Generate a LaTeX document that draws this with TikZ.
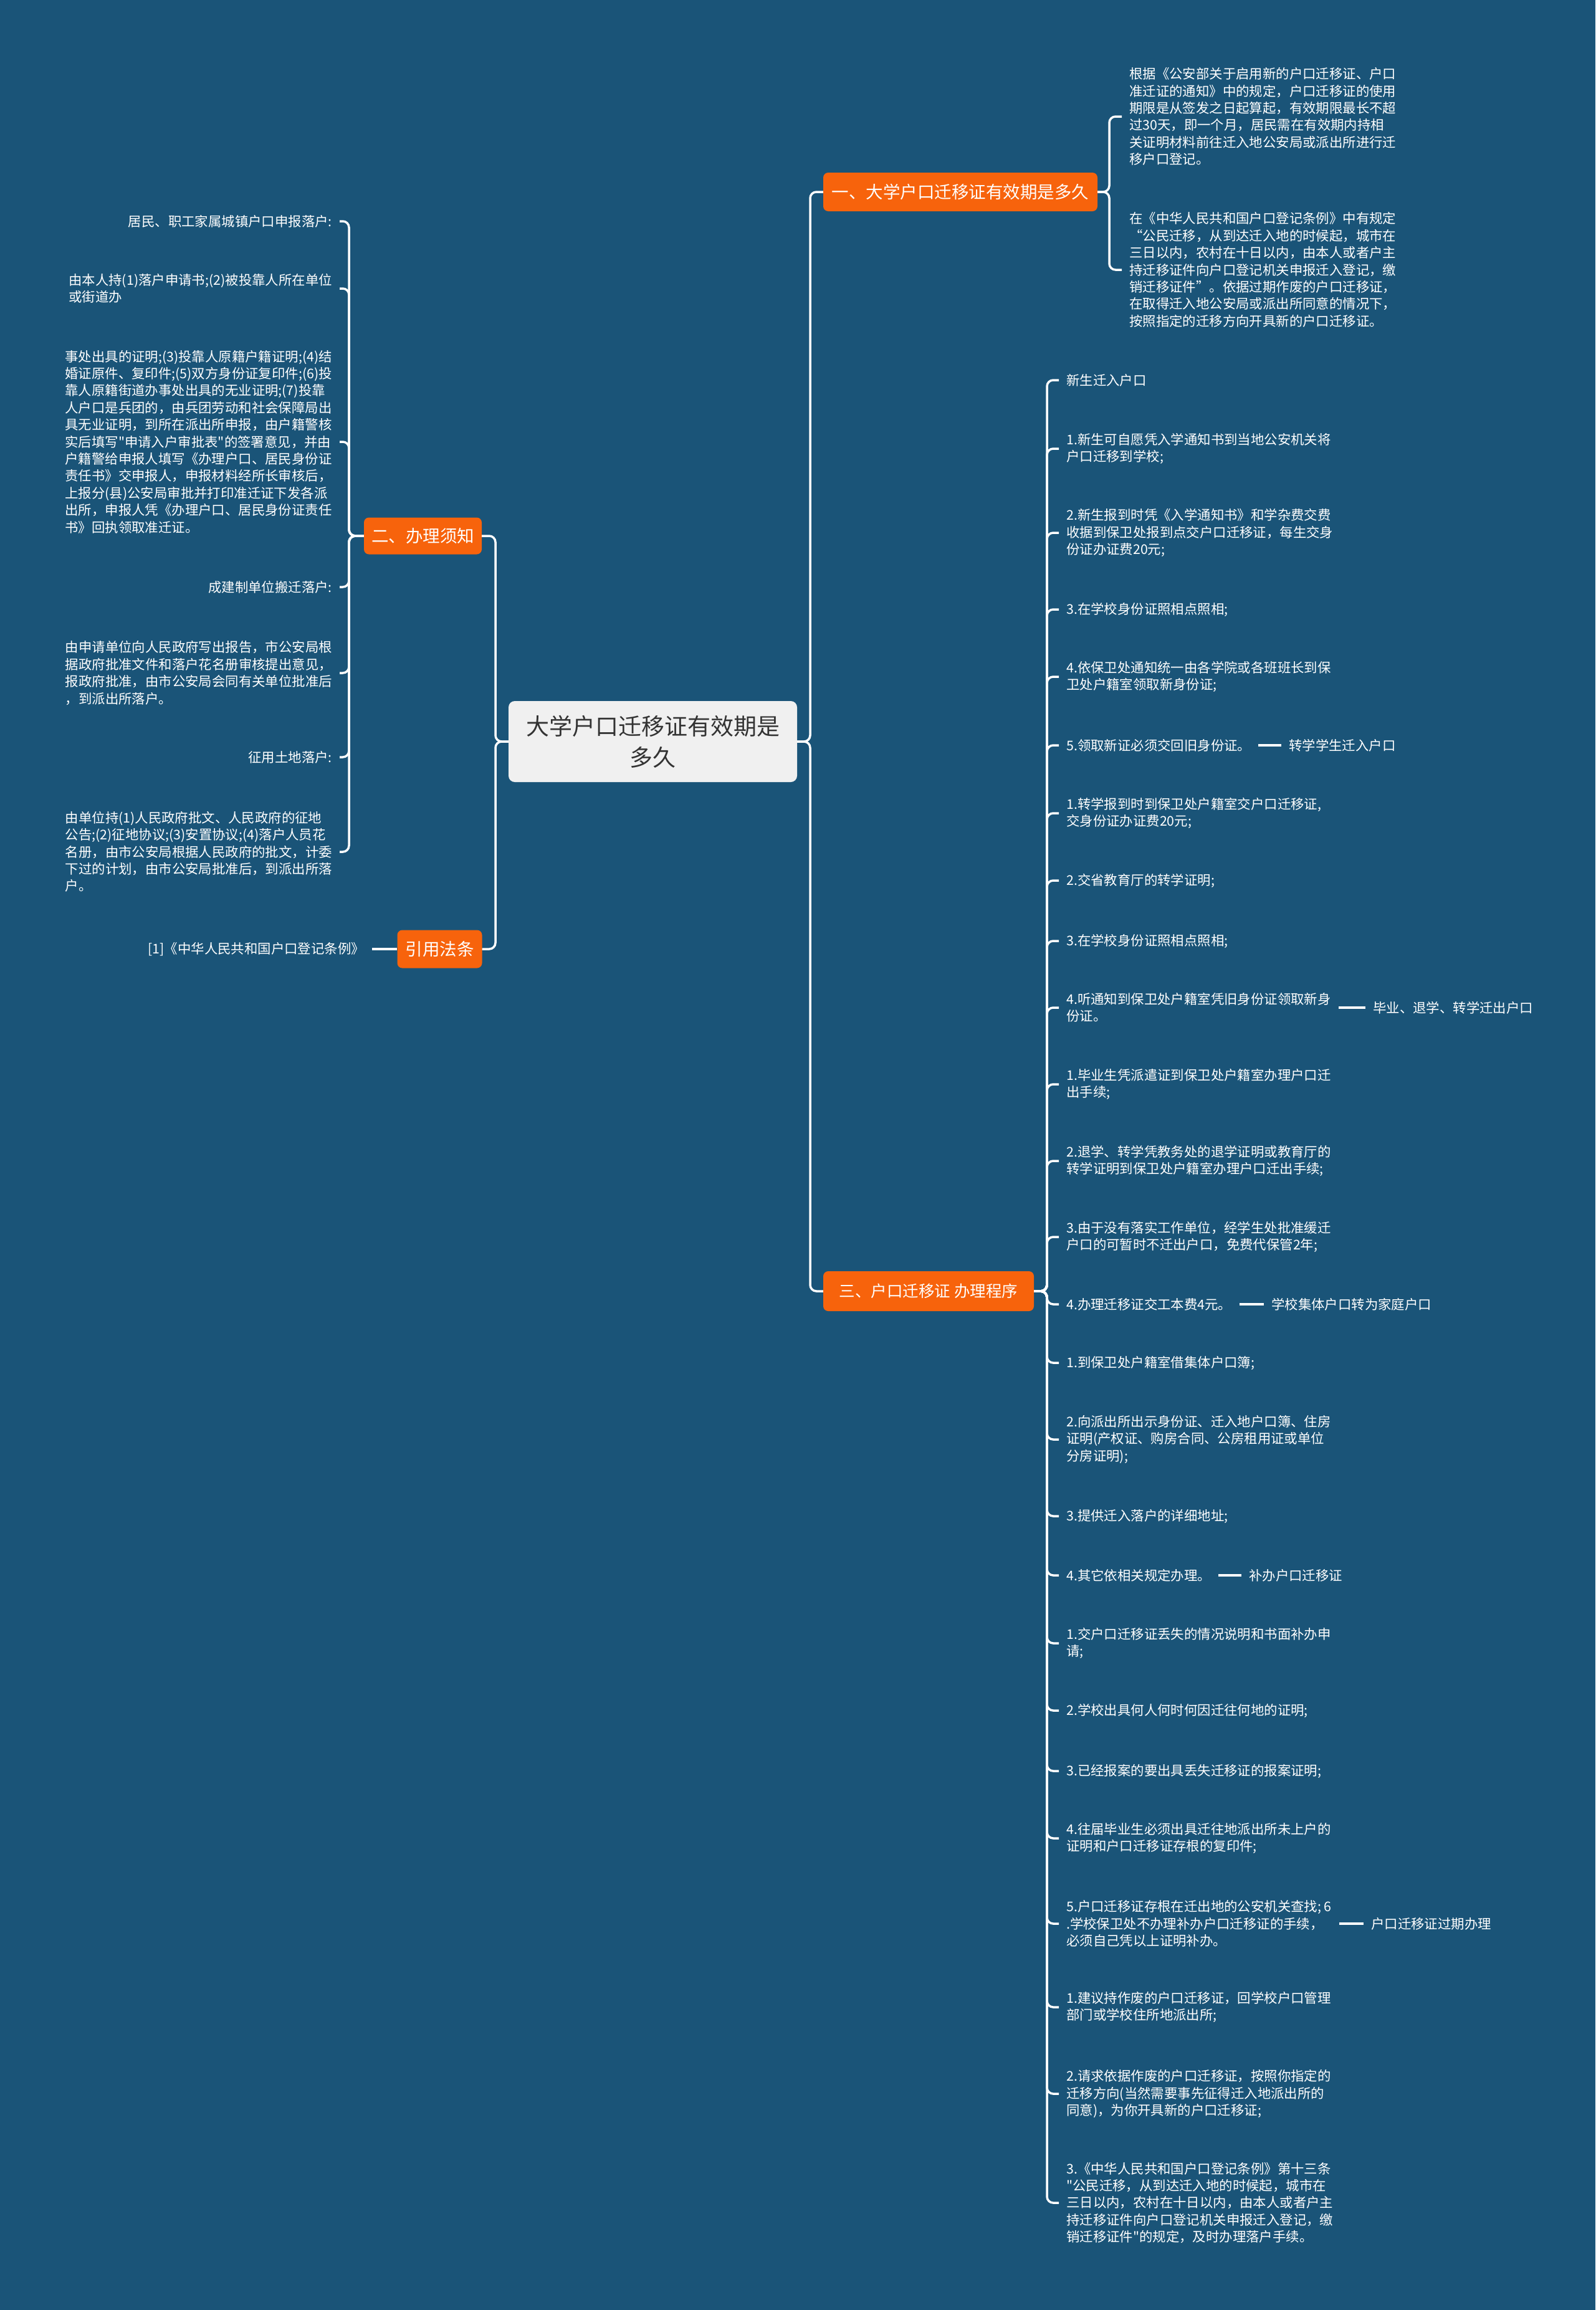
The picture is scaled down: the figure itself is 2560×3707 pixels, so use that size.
\documentclass[tikz,border=0pt]{standalone}
\usepackage{fontspec}
\setmainfont{Noto Sans CJK SC}[Ligatures=TeXOff]
\definecolor{bg}{RGB}{26,84,120}
\definecolor{org}{RGB}{247,99,12}
\definecolor{rootfill}{RGB}{240,240,240}
\definecolor{roottext}{RGB}{51,51,51}
\begin{document}
\begin{tikzpicture}[x=1pt,y=-1pt,
  rootbox/.style={fill=rootfill, rounded corners=10pt, minimum width=463pt, minimum height=130pt, align=center, text=roottext, font=\fontsize{37pt}{50pt}\selectfont, inner sep=0pt},
  branch/.style={fill=org, rounded corners=8pt, text=white, font=\fontsize{27.5pt}{33pt}\selectfont, inner sep=0pt, minimum height=62pt},
  leafR/.style={anchor=west, align=left, text=white, font=\fontsize{21.4pt}{27.4pt}\selectfont, inner xsep=12pt, inner ysep=2pt},
  leafL/.style={anchor=east, align=left, text=white, font=\fontsize{21.4pt}{27.4pt}\selectfont, inner xsep=12pt, inner ysep=2pt},
  conn/.style={draw=white, line width=3.5pt, rounded corners=10pt}
]
\fill[bg] (0,0) rectangle (2560,3707);
\useasboundingbox (0,0) rectangle (2560,3707);

% root and branches
\node[rootbox] (root) at (1047.5,1190) {大学户口迁移证有效期是\\多久};
\node[branch, minimum width=440pt] (b1) at (1541,308) {一、大学户口迁移证有效期是多久};
\node[branch, minimum width=338pt, font=\fontsize{25.5pt}{30pt}\selectfont, minimum height=64pt] (b3) at (1490,2072) {三、户口迁移证 办理程序};
\node[branch, minimum width=189pt, minimum height=59pt] (b2) at (678.5,860) {二、办理须知};
\node[branch, minimum width=136pt, minimum height=61pt] (b4) at (705.5,1523) {引用法条};

% branch 1 leaves
\node[leafR] (t1) at (1800,187) {根据《公安部关于启用新的户口迁移证、户口\\准迁证的通知》中的规定，户口迁移证的使用\\期限是从签发之日起算起，有效期限最长不超\\过30天，即一个月，居民需在有效期内持相\\关证明材料前往迁入地公安局或派出所进行迁\\移户口登记。};
\node[leafR] (t2) at (1800,433) {在《中华人民共和国户口登记条例》中有规定\\“公民迁移，从到达迁入地的时候起，城市在\\三日以内，农村在十日以内，由本人或者户主\\持迁移证件向户口登记机关申报迁入登记，缴\\销迁移证件”。依据过期作废的户口迁移证，\\在取得迁入地公安局或派出所同意的情况下，\\按照指定的迁移方向开具新的户口迁移证。};

% branch 2 leaves
\node[leafL] (l1) at (545,355) {居民、职工家属城镇户口申报落户:};
\node[leafL] (l2) at (545,463) {由本人持(1)落户申请书;(2)被投靠人所在单位\\或街道办};
\node[leafL] (l3) at (545,709) {事处出具的证明;(3)投靠人原籍户籍证明;(4)结\\婚证原件、复印件;(5)双方身份证复印件;(6)投\\靠人原籍街道办事处出具的无业证明;(7)投靠\\人户口是兵团的，由兵团劳动和社会保障局出\\具无业证明，到所在派出所申报，由户籍警核\\实后填写"申请入户审批表"的签署意见，并由\\户籍警给申报人填写《办理户口、居民身份证\\责任书》交申报人，申报材料经所长审核后，\\上报分(县)公安局审批并打印准迁证下发各派\\出所，申报人凭《办理户口、居民身份证责任\\书》回执领取准迁证。};
\node[leafL] (l4) at (545,942) {成建制单位搬迁落户:};
\node[leafL] (l5) at (545,1080) {由申请单位向人民政府写出报告，市公安局根\\据政府批准文件和落户花名册审核提出意见，\\报政府批准，由市公安局会同有关单位批准后\\，到派出所落户。};
\node[leafL] (l6) at (545,1215) {征用土地落户:};
\node[leafL] (l7) at (545,1367) {由单位持(1)人民政府批文、人民政府的征地\\公告;(2)征地协议;(3)安置协议;(4)落户人员花\\名册，由市公安局根据人民政府的批文，计委\\下过的计划，由市公安局批准后，到派出所落\\户。};
\node[leafL] (l8) at (597,1523) {[1]《中华人民共和国户口登记条例》};

% branch 3 leaves
\node[leafR] (r1) at (1699,610) {新生迁入户口};
\node[leafR] (r2) at (1699,720) {1.新生可自愿凭入学通知书到当地公安机关将\\户口迁移到学校;};
\node[leafR] (r3) at (1699,855) {2.新生报到时凭《入学通知书》和学杂费交费\\收据到保卫处报到点交户口迁移证，每生交身\\份证办证费20元;};
\node[leafR] (r4) at (1699,978) {3.在学校身份证照相点照相;};
\node[leafR] (r5) at (1699,1086) {4.依保卫处通知统一由各学院或各班班长到保\\卫处户籍室领取新身份证;};
\node[leafR] (r6) at (1699,1196) {5.领取新证必须交回旧身份证。};
\node[leafR] (r7) at (1699,1305) {1.转学报到时到保卫处户籍室交户口迁移证,\\交身份证办证费20元;};
\node[leafR] (r8) at (1699,1413) {2.交省教育厅的转学证明;};
\node[leafR] (r9) at (1699,1510) {3.在学校身份证照相点照相;};
\node[leafR] (r10) at (1699,1617) {4.听通知到保卫处户籍室凭旧身份证领取新身\\份证。};
\node[leafR] (r11) at (1699,1740) {1.毕业生凭派遣证到保卫处户籍室办理户口迁\\出手续;};
\node[leafR] (r12) at (1699,1863) {2.退学、转学凭教务处的退学证明或教育厅的\\转学证明到保卫处户籍室办理户口迁出手续;};
\node[leafR] (r13) at (1699,1985) {3.由于没有落实工作单位，经学生处批准缓迁\\户口的可暂时不迁出户口，免费代保管2年;};
\node[leafR] (r14) at (1699,2093) {4.办理迁移证交工本费4元。};
\node[leafR] (r15) at (1699,2187) {1.到保卫处户籍室借集体户口簿;};
\node[leafR] (r16) at (1699,2310) {2.向派出所出示身份证、迁入地户口簿、住房\\证明(产权证、购房合同、公房租用证或单位\\分房证明);};
\node[leafR] (r17) at (1699,2433) {3.提供迁入落户的详细地址;};
\node[leafR] (r18) at (1699,2528) {4.其它依相关规定办理。};
\node[leafR] (r19) at (1699,2637) {1.交户口迁移证丢失的情况说明和书面补办申\\请;};
\node[leafR] (r20) at (1699,2745) {2.学校出具何人何时何因迁往何地的证明;};
\node[leafR] (r21) at (1699,2842) {3.已经报案的要出具丢失迁移证的报案证明;};
\node[leafR] (r22) at (1699,2950) {4.往届毕业生必须出具迁往地派出所未上户的\\证明和户口迁移证存根的复印件;};
\node[leafR] (r23) at (1699,3087) {5.户口迁移证存根在迁出地的公安机关查找; 6\\.学校保卫处不办理补办户口迁移证的手续，\\必须自己凭以上证明补办。};
\node[leafR] (r24) at (1699,3221) {1.建议持作废的户口迁移证，回学校户口管理\\部门或学校住所地派出所;};
\node[leafR] (r25) at (1699,3360) {2.请求依据作废的户口迁移证，按照你指定的\\迁移方向(当然需要事先征得迁入地派出所的\\同意)，为你开具新的户口迁移证;};
\node[leafR] (r26) at (1699,3535) {3.《中华人民共和国户口登记条例》第十三条\\"公民迁移，从到达迁入地的时候起，城市在\\三日以内，农村在十日以内，由本人或者户主\\持迁移证件向户口登记机关申报迁入登记，缴\\销迁移证件"的规定，及时办理落户手续。};

% sub-children
\node[leafR] (c6) at (2056,1196) {转学学生迁入户口};
\node[leafR] (c10) at (2191,1617) {毕业、退学、转学迁出户口};
\node[leafR] (c14) at (2028,2093) {学校集体户口转为家庭户口};
\node[leafR] (c18) at (1992,2528) {补办户口迁移证};
\node[leafR] (c23) at (2188,3087) {户口迁移证过期办理};

% connectors root
\draw[conn] (root.east) -- (1300,1190) |- (b1.west);
\draw[conn] (root.east) -- (1300,1190) |- (b3.west);
\draw[conn] (root.west) -- (795,1190) |- (b2.east);
\draw[conn] (root.west) -- (795,1190) |- (b4.east);

% branch 1
\foreach \n in {t1,t2} \draw[conn] (b1.east) -- (1780,308) |- (\n.west);
% branch 2
\foreach \n in {l1,l2,l3,l4,l5,l6,l7} \draw[conn] (b2.west) -- (560,860) |- (\n.east);
% branch 4
\draw[conn] (b4.west) -- (l8.east);
% branch 3
\foreach \n in {r1,r2,r3,r4,r5,r6,r7,r8,r9,r10,r11,r12,r13,r14,r15,r16,r17,r18,r19,r20,r21,r22,r23,r24,r25,r26}
  \draw[conn] (b3.east) -- (1680,2072) |- (\n.west);
% sub-children
\draw[conn] (r6.east) -- (c6.west);
\draw[conn] (r10.east) -- (c10.west);
\draw[conn] (r14.east) -- (c14.west);
\draw[conn] (r18.east) -- (c18.west);
\draw[conn] (r23.east) -- (c23.west);
\end{tikzpicture}
\end{document}
